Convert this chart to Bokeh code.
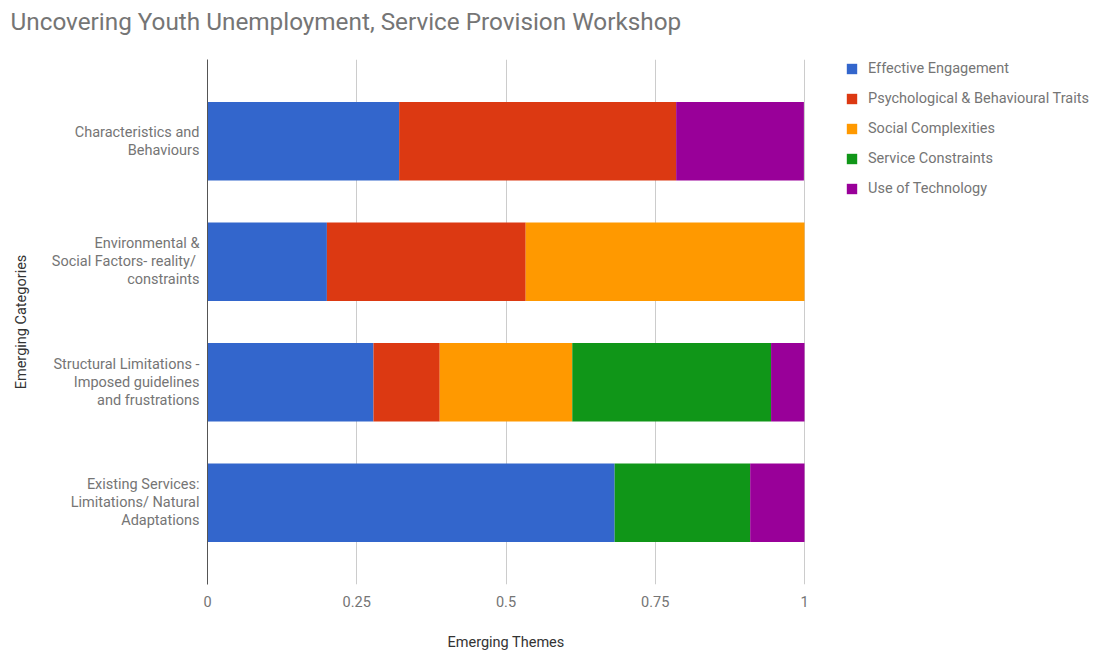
from bokeh.plotting import figure
from bokeh.models import FactorRange, FixedTicker, Legend, LegendItem, Title
from bokeh.embed import file_html
from bokeh.resources import INLINE

categories = [
    "Characteristics and\nBehaviours",
    "Environmental &\nSocial Factors-  reality/\nconstraints",
    "Structural Limitations -\nImposed guidelines\nand frustrations",
    "Existing Services:\nLimitations/ Natural\nAdaptations",
]
series_names = [
    "Effective Engagement",
    "Psychological & Behavioural Traits",
    "Social Complexities",
    "Service Constraints",
    "Use of Technology",
]
effective_engagement = [0.321, 0.200, 0.278, 0.682]
psychological_traits = [0.464, 0.333, 0.111, 0.0]
social_complexities = [0.0, 0.467, 0.222, 0.0]
service_constraints = [0.0, 0.0, 0.333, 0.227]
use_of_technology = [0.214, 0.0, 0.056, 0.091]
colors = ["#3366cc", "#dc3912", "#ff9900", "#109618", "#990099"]
x_ticks = [0, 0.25, 0.5, 0.75, 1]
x_tick_labels = ["0", "0.25", "0.5", "0.75", "1"]

keys = ["s0", "s1", "s2", "s3", "s4"]
data = dict(cat=categories, s0=effective_engagement, s1=psychological_traits,
            s2=social_complexities, s3=service_constraints, s4=use_of_technology)

FONT = "Roboto"
LIGHT = "#757575"
DARK = "#333333"
FS = "14.5px"

# frame: x from 207 (value 0) to 804 (value 1); extended to the canvas edge so the legend fits
X_END = (1097 - 207) / 597.0

p = figure(width=1097, height=650, output_backend="svg", toolbar_location=None,
           y_range=FactorRange(*list(reversed(categories)), range_padding=0.089),
           x_range=(0, X_END),
           min_border_left=207, min_border_right=0, min_border_top=58, min_border_bottom=65)

renderers = p.hbar_stack(keys, y="cat", height=0.65, color=colors, source=data, line_width=0)

# spacer between the title and the frame
p.add_layout(Title(text=" ", text_font_size="1px", standoff=17), "above")

p.title.text = "Uncovering Youth Unemployment,  Service Provision Workshop"
p.title.text_font = FONT
p.title.text_font_size = "24.3px"
p.title.text_font_style = "normal"
p.title.text_color = LIGHT
p.title.align = "left"
p.title.offset = -197
p.title.standoff = 8

p.outline_line_color = None
p.ygrid.grid_line_color = None
p.xgrid.grid_line_color = "#cccccc"
p.xaxis.ticker = FixedTicker(ticks=x_ticks)
p.xaxis.major_label_overrides = {t: l for t, l in zip(x_ticks, x_tick_labels)}
p.xaxis.axis_line_color = None
p.xaxis.major_tick_line_color = None
p.xaxis.minor_tick_line_color = None
p.xaxis.major_label_standoff = 5

# x axis title, centred under the 0..1 part of the frame
p.add_layout(Title(text=" ", text_font_size="1px", standoff=19), "below")
p.add_layout(Title(text="Emerging Themes", text_font=FONT, text_font_size=FS,
                   text_font_style="normal", text_color=DARK, align="left",
                   offset=240, standoff=0), "below")

p.yaxis.axis_line_color = "#555555"
p.yaxis.axis_line_width = 1
p.yaxis.major_tick_line_color = None
p.yaxis.minor_tick_line_color = None
p.yaxis.major_label_standoff = 2
p.yaxis.axis_label = "Emerging Categories"
p.yaxis.axis_label_standoff = 19
p.yaxis.major_label_text_line_height = 1.06

for ax in (p.xaxis, p.yaxis):
    ax.major_label_text_font = FONT
    ax.major_label_text_font_size = FS
    ax.major_label_text_color = LIGHT
    ax.axis_label_text_font = FONT
    ax.axis_label_text_font_size = FS
    ax.axis_label_text_font_style = "normal"
    ax.axis_label_text_color = DARK

items = [LegendItem(label=n, renderers=[r]) for n, r in zip(series_names, renderers)]
legend = Legend(items=items, location=(638, 386), padding=0, spacing=10,
                glyph_width=13, glyph_height=13, label_height=20, label_standoff=10,
                label_text_font=FONT, label_text_font_size=FS, label_text_color=LIGHT,
                border_line_color=None, background_fill_alpha=0, margin=0)
p.add_layout(legend, "center")

open("out.html", "w").write(file_html(p, INLINE))
